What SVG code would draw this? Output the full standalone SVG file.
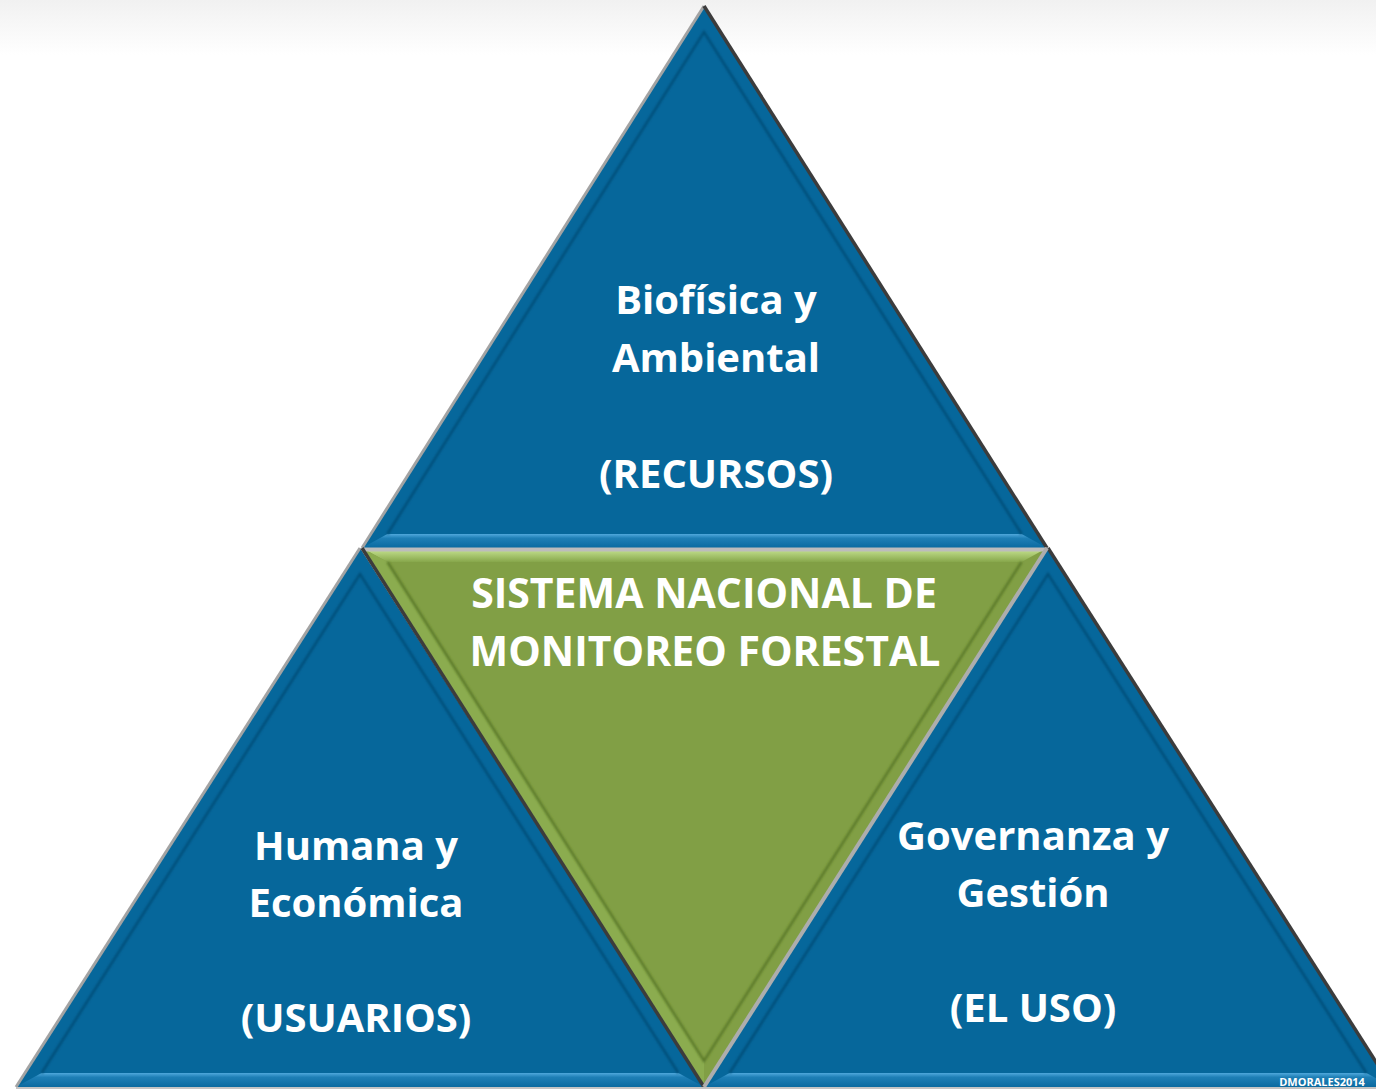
<svg xmlns="http://www.w3.org/2000/svg" width="1376" height="1089" viewBox="0 0 1376 1089">
<defs>
<linearGradient id="bg" x1="0" y1="0" x2="0" y2="1"><stop offset="0" stop-color="#f1f1f1"/><stop offset="1" stop-color="#ffffff"/></linearGradient>
<linearGradient id="bevTop" gradientUnits="userSpaceOnUse" x1="0" y1="534" x2="0" y2="548"><stop offset="0" stop-color="#4fa8dc"/><stop offset="0.3" stop-color="#1e7fb6"/><stop offset="1" stop-color="#0a6aa0"/></linearGradient>
<linearGradient id="bevBot" gradientUnits="userSpaceOnUse" x1="0" y1="1073" x2="0" y2="1087"><stop offset="0" stop-color="#4fa8dc"/><stop offset="0.3" stop-color="#1e7fb6"/><stop offset="1" stop-color="#0a6aa0"/></linearGradient>
<linearGradient id="bevGreen" gradientUnits="userSpaceOnUse" x1="0" y1="551" x2="0" y2="562"><stop offset="0" stop-color="#bcda86"/><stop offset="1" stop-color="#87a74b"/></linearGradient>
<filter id="soft" x="-5%" y="-5%" width="110%" height="110%"><feGaussianBlur stdDeviation="1.2"/></filter>
<style>
.face{fill:#06679b}
.gface{fill:#819f45}
.shade{fill:none;stroke:#044f7a;stroke-width:2.5;filter:url(#soft)}
.gshade{fill:none;stroke:#5c7a2a;stroke-width:2.5;filter:url(#soft)}
.lite{stroke:#a3a3a3;stroke-width:3;fill:none}
.dark{stroke:#3c3c3c;stroke-width:3.5;fill:none}
.lbl{font-family:"Open Sans","Liberation Sans",sans-serif;font-weight:700;font-size:40px;fill:#ffffff;text-anchor:middle}
.big{font-size:41px}
</style>
</defs>
<rect x="0" y="0" width="1376" height="1089" fill="#ffffff"/>
<rect x="0" y="0" width="1376" height="55" fill="url(#bg)"/>

<g id="node-top">
<polygon class="face" points="704,6 362,548 1047,548"/>
<polygon points="362,548 1047,548 1021.6,534 387.4,534" fill="url(#bevTop)"/>
<polyline class="shade" points="387.4,534 704,32 1021.6,534"/>
<line class="lite" x1="704" y1="6" x2="362" y2="548"/>
<line class="dark" x1="704" y1="6" x2="1047" y2="548"/>
<text class="lbl" x="716" y="314">Biofísica y</text>
<text class="lbl" x="716" y="372">Ambiental</text>
<text class="lbl" x="716" y="488">(RECURSOS)</text>
</g>

<g id="node-left">
<polygon class="face" points="360,548 16,1087 704,1087"/>
<polygon points="16,1087 704,1087 678.4,1073 41.6,1073" fill="url(#bevBot)"/>
<polyline class="shade" points="41.6,1073 360,574 678.4,1073"/>
<line class="lite" x1="360" y1="548" x2="16" y2="1087"/>
<text class="lbl" x="356" y="860">Humana y</text>
<text class="lbl" x="356" y="917">Económica</text>
<text class="lbl" x="356" y="1032">(USUARIOS)</text>
</g>

<g id="node-right">
<polygon class="face" points="1048,548 704,1087 1392,1087"/>
<polygon points="704,1087 1392,1087 1366.4,1073 729.6,1073" fill="url(#bevBot)"/>
<polyline class="shade" points="729.6,1073 1048,574 1366.4,1073"/>
<line class="dark" x1="1048" y1="548" x2="1392" y2="1087"/>
<text class="lbl" x="1033" y="850">Governanza y</text>
<text class="lbl" x="1033" y="907">Gestión</text>
<text class="lbl" x="1033" y="1022">(EL USO)</text>
</g>

<g id="node-center">
<polygon class="gface" points="362,548 1047,548 704,1087"/>
<polygon points="362,548 1047,548 1021.5,562 387.5,562" fill="url(#bevGreen)"/>
<polygon points="362,548 387.5,562 704,1061 704,1087" fill="#8bac4f"/>
<polyline class="gshade" points="387.5,562 704,1061 1021.5,562"/>
<line x1="362" y1="549.5" x2="1047" y2="549.5" stroke="#bcbcbc" stroke-width="4"/>
<line class="dark" x1="362" y1="548" x2="704" y2="1087"/>
<line x1="1047" y1="548" x2="704" y2="1087" stroke="#adadad" stroke-width="4"/>
<text class="lbl big" x="704" y="608">SISTEMA NACIONAL DE</text>
<text class="lbl big" x="705" y="666">MONITOREO FORESTAL</text>
</g>

<line x1="16" y1="1088" x2="1376" y2="1088" stroke="#c4c4c4" stroke-width="2"/>
<text x="1322" y="1086" font-family="Open Sans, Liberation Sans, sans-serif" font-weight="700" font-size="11" fill="#ffffff" text-anchor="middle">DMORALES2014</text>
</svg>
